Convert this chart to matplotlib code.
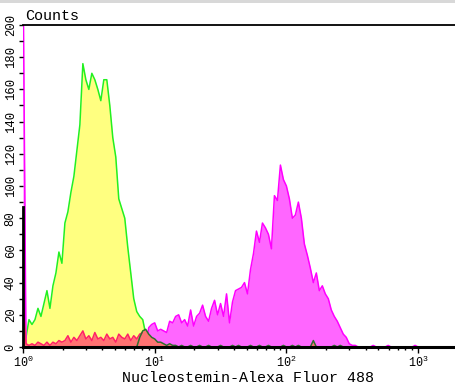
import numpy as np
import matplotlib
matplotlib.use('Agg')
from matplotlib import pyplot as plt
from matplotlib.patches import Rectangle

plt.rcParams['font.family'] = ['Liberation Mono', 'DejaVu Sans']

# log channel scale of the histogram, 44 channels per decade
CH_PER_DECADE = 44
N_CH = 145

# isotype/blank (yellow fill, green outline)
yellow_counts = [5, 6, 17, 14, 17, 24, 19, 27, 35, 24, 38, 46, 59, 52, 77, 84, 96, 106, 122, 138,
                 176, 166, 160, 170, 166, 160, 153, 166, 166, 150, 130, 118, 92, 86, 80, 62, 46, 30, 22, 19,
                 17, 8, 3, 0]

# unstained (salmon fill, crimson outline)
red_counts = [28, 2, 1, 2, 1, 3, 2, 1, 3, 1, 3, 2, 4, 3, 4, 7, 3, 6, 4, 7,
              10, 5, 7, 4, 9, 5, 6, 4, 8, 5, 6, 3, 8, 6, 5, 8, 4, 7, 5, 8,
              9]

# Nucleostemin stained sample (magenta)
magenta_counts = [240] + [0] * 41 + [
    12, 14, 15, 10, 11, 10, 9, 16, 15, 19, 20, 15, 17, 13, 23, 13, 19, 21, 26, 19,
    16, 24, 29, 20, 27, 19, 33, 15, 28, 35, 36, 37, 40, 33, 48, 58, 72, 65, 77, 74,
    70, 61, 94, 91, 113, 104, 100, 92, 80, 82, 90, 80, 64, 57, 49, 40, 46, 35, 38, 33,
    30, 23, 19, 16, 12, 8, 6, 2, 1, 1, 0, 0, 0, 0, 0, 1, 0, 0, 0, 0,
    1, 0, 0, 0, 0, 0, 0, 0, 0, 1]

# second control (salmon fill, dark green outline)
dark_counts = [0] * 39 + [
    6, 10, 11, 8, 6, 5, 3, 3, 2, 1, 2, 1, 1, 0, 1, 0, 0, 1, 0, 0,
    1, 0, 0, 1, 0, 0, 0, 1, 0, 0, 0, 1, 0, 1, 0, 0, 0, 1, 0, 0,
    1, 0, 0, 1, 0, 0, 0, 0, 1, 0, 0, 1, 0, 1, 0, 0, 0, 0, 4, 0,
    0, 0, 0, 0, 0, 1, 0, 1]

y_ticks = list(range(0, 201, 20))
x_ticks = [1, 10, 100, 1000]
x_tick_labels = [r'$\mathregular{10^{0}}$', r'$\mathregular{10^{1}}$',
                 r'$\mathregular{10^{2}}$', r'$\mathregular{10^{3}}$']
x_label = 'Nucleostemin-Alexa Fluor 488'
y_label = 'Counts'


def pad(counts):
    return np.array(counts + [0] * (N_CH - len(counts)), dtype=float)


# channel start positions on the log axis
x_ch = 10 ** (np.arange(N_CH) / CH_PER_DECADE)

W, H = 456, 387
fig = plt.figure(figsize=(W / 100, H / 100), dpi=100)
ax = fig.add_axes([23 / W, 1 - 347 / H, 1 - 23 / W, (347 - 25) / H])

# layers: fill + outline
series = [
    (yellow_counts, '#ffff80', '#22f022', 1.2),
    (magenta_counts, '#ff66ff', '#ff00ff', 1.4),
    (red_counts, '#ff7272', '#ff2068', 1.6),
    (dark_counts, '#ff7272', '#2e6e2e', 1.8),
]
for counts, fill_c, line_c, z in series:
    vals = pad(counts)
    ax.fill_between(x_ch, 0, vals, color=fill_c, lw=0, zorder=z)
    ax.plot(x_ch, vals, color=line_c, lw=1.1, zorder=z + 0.05)

ax.set_xscale('log')
ax.set_xlim(1, 10 ** (433 / 131.7))
ax.set_ylim(0, 200)

ax.spines['right'].set_visible(False)
ax.spines['top'].set_linewidth(1.3)
ax.spines['bottom'].set_linewidth(2.2)
ax.spines['left'].set_linewidth(2.0)
ax.spines['left'].set_bounds(0, 87)  # magenta first channel covers the rest

ax.set_yticks(y_ticks)
ax.set_yticks(range(10, 200, 20), minor=True)
ax.set_yticklabels([str(v) for v in y_ticks], rotation=90, va='center', fontsize=8.8)
ax.tick_params(axis='y', which='both', direction='out', length=3, width=1, pad=1.5)

ax.set_xticks(x_ticks)
ax.set_xticklabels(x_tick_labels, fontsize=8.5)
ax.tick_params(axis='x', which='major', direction='out', length=4, width=1, pad=1.5)
ax.tick_params(axis='x', which='minor', direction='out', length=2.5, width=1)

fig.text(248 / W, 1 - 378 / H, x_label, ha='center', va='center', fontsize=10.8)
fig.text(25 / W, 1 - 16 / H, y_label, ha='left', va='center', fontsize=10.8)

# light gray band along the top of the image
fig.add_artist(Rectangle((0, 1 - 3 / H), 1, 3 / H, transform=fig.transFigure,
                         color='#d8d8d8', lw=0))

fig.savefig('out.png', dpi=100)
